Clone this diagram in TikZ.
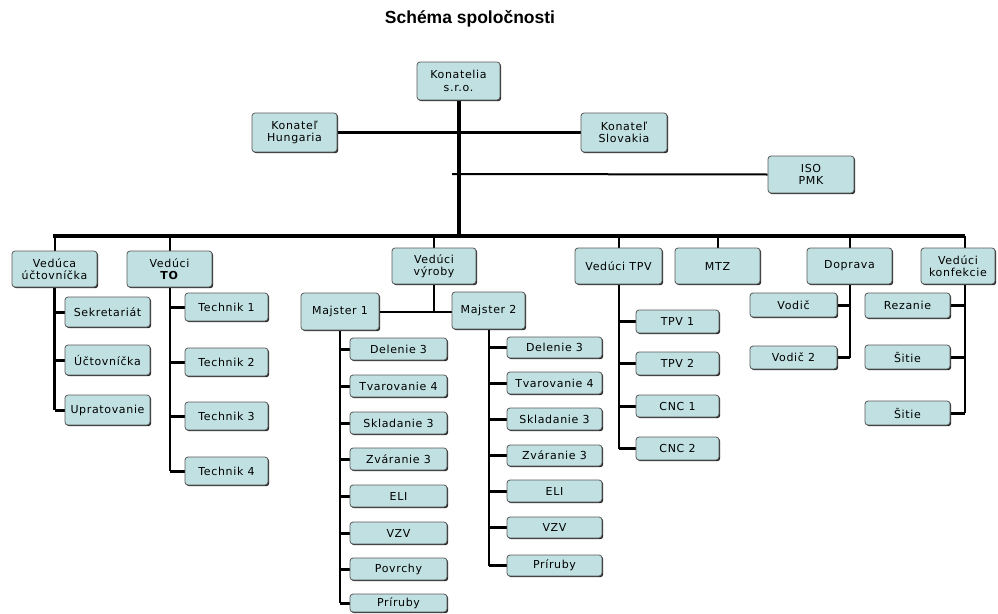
\documentclass[tikz,border=0pt]{standalone}
\usepackage{fontspec}
\setmainfont[LetterSpace=6]{DejaVu Sans}
\newfontfamily\titlefont{Liberation Sans}
\usetikzlibrary{shadows,backgrounds}
\definecolor{boxfill}{RGB}{192,224,226}
\tikzset{
  box/.style={draw=black!65, line width=0.8pt, fill=boxfill, rounded corners=3pt,
    inner sep=0pt, align=center, font=\fontsize{11}{12.5}\selectfont,
    drop shadow={shadow xshift=1.2pt, shadow yshift=-1.2pt, fill=black!85, opacity=1}},
  trunk/.style={line width=4pt},
  busline/.style={line width=3.5pt},
  dropline/.style={line width=2pt},
  vline/.style={line width=2.5pt},
  stub/.style={line width=3pt},
}
\newcommand\bx[6]{\node[box,minimum width=#4pt-#2pt,minimum height=#5pt-#3pt] (#1) at ({(#2+#4)/2},{(#3+#5)/2}) {#6};}
\begin{document}
\begin{tikzpicture}[x=1pt,y=-1pt]
\useasboundingbox (0,0) rectangle (998,613);
\node[font=\titlefont\bfseries\fontsize{17.5}{19}\selectfont] (title) at (470,19) {Schéma spoločnosti};
% top
\bx{kon}{417}{62}{500}{100}{Konatelia\\s.r.o.}
\bx{hun}{252}{113}{337}{152}{Konateľ\\Hungaria}
\bx{slo}{581}{113}{667}{152}{Konateľ\\Slovakia}
\bx{iso}{768}{156}{854}{193}{ISO\\PMK}
% level 2
\bx{vuc}{12}{251}{97}{287}{Vedúca\\účtovníčka}
\bx{vto}{127}{251}{212}{287}{Vedúci\\\textbf{TO}}
\bx{vyr}{392}{248}{476}{284}{Vedúci\\výroby}
\bx{tpv}{575}{248}{662}{284}{Vedúci TPV}
\bx{mtz}{675}{248}{760}{284}{MTZ}
\bx{dop}{807}{248}{892}{284}{Doprava}
\bx{konf}{921}{248}{995}{284}{Vedúci\\konfekcie}
% accounting
\bx{sek}{65}{297}{150}{327}{Sekretariát}
\bx{uct}{65}{345}{150}{375}{Účtovníčka}
\bx{upr}{65}{395}{150}{425}{Upratovanie}
% TO
\bx{ta}{185}{293}{268}{321}{Technik 1}
\bx{tb}{185}{348}{268}{376}{Technik 2}
\bx{tc}{185}{402}{268}{430}{Technik 3}
\bx{td}{185}{457}{268}{485}{Technik 4}
% production
\bx{ma}{301}{293}{379}{330}{Majster 1}
\bx{mb}{452}{292}{525}{329}{Majster 2}
\bx{aa}{350}{338}{447}{360}{Delenie 3}
\bx{ab}{350}{375}{447}{397}{Tvarovanie 4}
\bx{ac}{350}{412}{447}{434}{Skladanie 3}
\bx{ad}{350}{448}{447}{470}{Zváranie 3}
\bx{ae}{350}{485}{447}{507}{ELI}
\bx{af}{350}{522}{447}{544}{VZV}
\bx{ag}{350}{558}{447}{580}{Povrchy}
\bx{ah}{350}{594}{447}{612}{Príruby}
\bx{ba}{507}{337}{602}{358}{Delenie 3}
\bx{bb}{507}{372}{602}{394}{Tvarovanie 4}
\bx{bc}{507}{408}{602}{430}{Skladanie 3}
\bx{bd}{507}{445}{602}{466}{Zváranie 3}
\bx{be}{507}{480}{602}{502}{ELI}
\bx{bf}{507}{517}{602}{538}{VZV}
\bx{bg}{507}{555}{602}{576}{Príruby}
% TPV
\bx{pa}{636}{310}{719}{333}{TPV 1}
\bx{pb}{636}{352}{719}{375}{TPV 2}
\bx{pc}{636}{395}{719}{417}{CNC 1}
\bx{pd}{636}{437}{719}{460}{CNC 2}
% Doprava
\bx{da}{750}{293}{837}{317}{Vodič}
\bx{db}{750}{346}{837}{369}{Vodič 2}
% konfekcia
\bx{ka}{865}{293}{950}{318}{Rezanie}
\bx{kb}{865}{345}{950}{369}{Šitie}
\bx{kc}{865}{401}{950}{425}{Šitie}
\begin{scope}[on background layer]
\coordinate (busL) at (53,236);
\coordinate (busR) at (965,236);
\coordinate (isoL) at (452,174);
\draw[busline] (busL) -- (busR);
\draw[trunk] (kon.south) -- (kon.south |- busL);
\draw[dropline, line width=2.5pt] (hun.east) -- (slo.west);
\draw[dropline] (isoL) -- (iso.west);
\foreach \n in {vuc,vto,vyr,tpv,mtz,dop}{\draw[dropline] (\n.north |- busL) -- (\n.north);}
\draw[dropline] (busR) -- (busR |- konf.north);
% accounting
\draw[vline] (vuc.south) -- (vuc.south |- upr.west);
\foreach \n in {sek,uct,upr}{\draw[stub] (vuc.south |- \n.west) -- (\n.west);}
% TO
\draw[dropline] (vto.south) -- (vto.south |- td.west);
\foreach \n in {ta,tb,tc,td}{\draw[stub] (vto.south |- \n.west) -- (\n.west);}
% production
\draw[dropline] (vyr.south) -- (vyr.south |- ma.east);
\draw[dropline] (ma.east) -- (ma.east -| mb.west);
\draw[vline] (ma.south) -- (ma.south |- ah.west);
\foreach \n in {aa,ab,ac,ad,ae,af,ag,ah}{\draw[stub] (ma.south |- \n.west) -- (\n.west);}
\draw[dropline] (mb.south) -- (mb.south |- bg.west);
\foreach \n in {ba,bb,bc,bd,be,bf,bg}{\draw[stub] (mb.south |- \n.west) -- (\n.west);}
% TPV
\draw[dropline] (tpv.south) -- (tpv.south |- pd.west);
\foreach \n in {pa,pb,pc,pd}{\draw[stub] (tpv.south |- \n.west) -- (\n.west);}
% Doprava
\draw[dropline] (dop.south) -- (dop.south |- db.east);
\foreach \n in {da,db}{\draw[stub] (dop.south |- \n.east) -- (\n.east);}
% konfekcia
\draw[dropline] (busR |- konf.south) -- (busR |- kc.east);
\foreach \n in {ka,kb,kc}{\draw[stub] (busR |- \n.east) -- (\n.east);}
\end{scope}
\end{tikzpicture}
\end{document}
